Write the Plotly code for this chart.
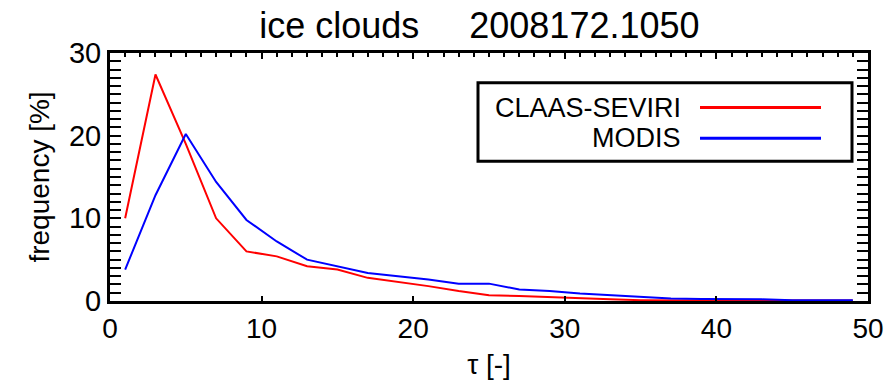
import plotly.graph_objects as go

# optical thickness bin centres and frequency distributions (%)
tau = [1, 3, 5, 7, 9, 11, 13, 15, 17, 19, 21, 23, 25, 27, 29, 31, 33, 35, 37, 39, 41, 43, 45, 47, 49]
claas_seviri = [10.0, 27.4, 19.0, 10.0, 6.0, 5.4, 4.2, 3.8, 2.8, 2.3, 1.8, 1.2, 0.7, 0.6, 0.45,
                0.3, 0.2, 0.1, 0.05, 0.05, 0.05, 0.05, 0.05, 0.05, 0.05]
modis = [3.8, 12.8, 20.2, 14.4, 9.8, 7.2, 5.0, 4.2, 3.4, 3.0, 2.6, 2.1, 2.1, 1.4, 1.2,
         0.9, 0.7, 0.55, 0.3, 0.25, 0.25, 0.2, 0.1, 0.1, 0.1]

series_names = ["CLAAS-SEVIRI", "MODIS"]
series_colors = ["#ff0000", "#0000ff"]

x_ticks = [0, 10, 20, 30, 40, 50]
y_ticks = [0, 10, 20, 30]

title_text = "ice clouds&nbsp;&nbsp;&nbsp;&nbsp;&nbsp;2008172.1050"
x_title = "τ [-]"
y_title = "frequency [%]"

FONT = "Liberation Sans, Arial, Helvetica, sans-serif"

fig = go.Figure()
for name, ys, col in zip(series_names, [claas_seviri, modis], series_colors):
    fig.add_trace(go.Scatter(x=tau, y=ys, mode="lines", name=name,
                             line=dict(color=col, width=2), showlegend=False))

fig.update_layout(
    width=896, height=387,
    margin=dict(l=110, r=28, t=53, b=84),
    paper_bgcolor="white", plot_bgcolor="white",
    font=dict(family=FONT, color="black", size=28),
    title=dict(text=title_text, x=0.535, xanchor="center", y=0.935, yanchor="middle",
               font=dict(size=36, family=FONT)),
)

fig.update_xaxes(
    range=[0, 50], tickvals=x_ticks, ticktext=[str(v) for v in x_ticks],
    ticks="inside", ticklen=5, tickwidth=2, tickcolor="black",
    showline=True, linecolor="black", linewidth=3, mirror=True,
    showgrid=False, zeroline=False,
    tickfont=dict(size=28), title=dict(text=x_title, font=dict(size=28), standoff=12),
)

# top axis carrying the fine tick marks
fig.update_layout(xaxis2=dict(
    overlaying="x", side="top", anchor="y", range=[0, 50], tickvals=x_ticks,
    showticklabels=False, ticks="inside", ticklen=6, tickwidth=2, tickcolor="black",
    minor=dict(ticks="inside", dtick=1, ticklen=4, tickwidth=2, tickcolor="black"),
    showgrid=False, zeroline=False, showline=False,
))
fig.add_trace(go.Scatter(x=[0, 50], y=[None, None], xaxis="x2", yaxis="y",
                         showlegend=False, hoverinfo="skip"))

fig.update_yaxes(
    range=[0, 30], tickvals=y_ticks, ticktext=[str(v) for v in y_ticks],
    ticks="inside", ticklen=11, tickwidth=2, tickcolor="black",
    minor=dict(ticks="inside", dtick=1, ticklen=6, tickwidth=2, tickcolor="black"),
    showline=True, linecolor="black", linewidth=3, mirror="allticks",
    showgrid=False, zeroline=False,
    tickfont=dict(size=29), title=dict(text=y_title, font=dict(size=28), standoff=12),
)

# legend box with labels to the left of the line samples
fig.add_shape(type="rect", xref="paper", yref="paper",
              x0=(478 - 110) / 758, x1=(852 - 110) / 758,
              y0=(303 - 162) / 250, y1=(303 - 83) / 250,
              line=dict(color="black", width=3), fillcolor="white", layer="above")
row_y = [108, 139]
for name, col, py in zip(series_names, series_colors, row_y):
    yp = (303 - py) / 250
    fig.add_shape(type="line", xref="paper", yref="paper",
                  x0=(700 - 110) / 758, x1=(821 - 110) / 758, y0=yp, y1=yp,
                  line=dict(color=col, width=3), layer="above")
    fig.add_annotation(text=name, xref="paper", yref="paper",
                       x=(683 - 110) / 758, y=yp, xanchor="right", yanchor="middle",
                       showarrow=False, font=dict(size=27, family=FONT, color="black"))

fig.write_html("out.html")
